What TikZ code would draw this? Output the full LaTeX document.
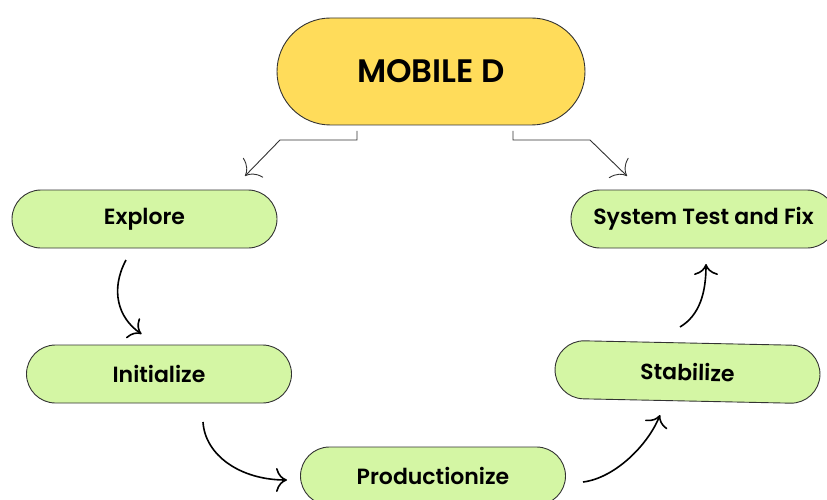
\documentclass[tikz,border=0pt]{standalone}
\usepackage{fontspec}
\setmainfont{Poppins}
\newfontfamily\psemi{Poppins SemiBold}
\usetikzlibrary{shapes.misc,arrows.meta}
\definecolor{yel}{HTML}{FFDC5A}
\definecolor{grn}{HTML}{D4F6A4}
\definecolor{edge}{HTML}{333333}
\tikzset{
  pill/.style={rounded rectangle, draw=edge, line width=0.9pt, inner sep=0pt},
  stage/.style={pill, fill=grn, minimum width=265pt, minimum height=58pt, font=\psemi\fontsize{22}{25}\selectfont},
  thinarrow/.style={draw=edge, line width=0.9pt, -{To[length=12pt,width=28pt]}},
  curvearrow/.style={draw=black, line width=1.6pt, -{To[length=11pt,width=24pt]}}
}
\begin{document}
\begin{tikzpicture}[x=1pt,y=-1pt]
\useasboundingbox (0,0) rectangle (827,500);
\node[pill, fill=yel, minimum width=308pt, minimum height=107pt, font=\psemi\fontsize{32.5}{36}\selectfont] (mob) at (431,71.5) {MOBILE D};
\node[stage] (exp) at (144.5,219) {Explore};
\node[stage] (sys) at (703.5,219) {System Test and Fix};
\node[stage] (ini) at (159,374) {Initialize};
\node[stage, rotate=-1.2] (sta) at (687.5,372) {Stabilize};
\node[stage] (pro) at (433,476) {Productionize};
% top connectors
\coordinate (l0) at (357,131);
\coordinate (l1) at (357,140);
\coordinate (l2) at (280,140);
\coordinate (ltip) at (245,176);
\coordinate (r0) at (513,131);
\coordinate (r1) at (513,140);
\coordinate (r2) at (590,140);
\coordinate (rtip) at (627,176);
\draw[thinarrow] (l0) -- (l1) -- (l2) -- (ltip);
\draw[thinarrow] (r0) -- (r1) -- (r2) -- (rtip);
% curved connectors
\coordinate (a1s) at (126,260);
\coordinate (a1t) at (141.5,334);
\coordinate (a2s) at (203,422);
\coordinate (a2t) at (287,480);
\coordinate (a3s) at (583,482);
\coordinate (a3t) at (660,415);
\coordinate (a4s) at (680,327);
\coordinate (a4t) at (706,264);
\draw[curvearrow] (a1s) .. controls (110,290) and (118,318) .. (a1t);
\draw[curvearrow] (a2s) .. controls (205,455) and (240,480) .. (a2t);
\draw[curvearrow] (a3s) .. controls (615,478) and (648,445) .. (a3t);
\draw[curvearrow] (a4s) .. controls (700,315) and (706,292) .. (a4t);
\end{tikzpicture}
\end{document}
